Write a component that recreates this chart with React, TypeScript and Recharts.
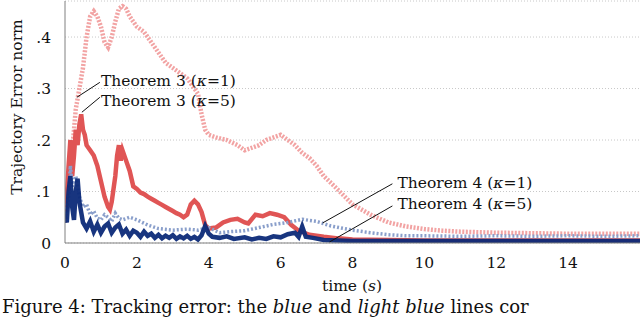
import {
  CartesianGrid,
  Line,
  LineChart,
  ReferenceDot,
  ReferenceLine,
  XAxis,
  YAxis,
} from "recharts";

// Theorem 3 (kappa=1) - light red, dotted
const t3k1Time = [0, 0.1, 0.2, 0.3, 0.4, 0.5, 0.6, 0.7, 0.8, 0.9, 1.0, 1.1, 1.2, 1.3, 1.4, 1.5, 1.6, 1.7, 1.8, 2.0, 2.2, 2.4, 2.6, 2.8, 3.0, 3.2, 3.4, 3.6, 3.7, 3.8, 3.9, 4.0, 4.2, 4.5, 4.8, 5.0, 5.2, 5.4, 5.6, 5.8, 6.0, 6.2, 6.4, 6.6, 6.8, 7.0, 7.2, 7.5, 8.0, 8.5, 9.0, 9.5, 10, 10.5, 11, 12, 13, 14, 15, 16];
const t3k1Err = [0.04, 0.1, 0.18, 0.26, 0.3, 0.34, 0.4, 0.44, 0.45, 0.44, 0.42, 0.39, 0.38, 0.4, 0.43, 0.455, 0.46, 0.455, 0.44, 0.42, 0.41, 0.39, 0.37, 0.35, 0.34, 0.33, 0.32, 0.3, 0.29, 0.25, 0.22, 0.21, 0.205, 0.2, 0.19, 0.18, 0.185, 0.19, 0.2, 0.205, 0.21, 0.2, 0.19, 0.175, 0.165, 0.15, 0.13, 0.11, 0.075, 0.055, 0.04, 0.032, 0.027, 0.024, 0.022, 0.02, 0.019, 0.018, 0.018, 0.018];

// Theorem 3 (kappa=5) - red, solid
const t3k5Time = [0, 0.05, 0.1, 0.15, 0.2, 0.25, 0.3, 0.35, 0.4, 0.45, 0.5, 0.55, 0.6, 0.7, 0.8, 0.9, 1.0, 1.1, 1.2, 1.25, 1.3, 1.4, 1.45, 1.5, 1.55, 1.6, 1.7, 1.8, 1.9, 2.0, 2.1, 2.2, 2.3, 2.4, 2.5, 2.6, 2.7, 2.8, 2.9, 3.0, 3.1, 3.2, 3.3, 3.4, 3.5, 3.6, 3.7, 3.8, 3.9, 4.0, 4.2, 4.4, 4.6, 4.8, 5.0, 5.1, 5.3, 5.5, 5.7, 5.9, 6.1, 6.3, 6.5, 6.8, 7.2, 7.6, 8.0, 9, 10, 12, 14, 16];
const t3k5Err = [0.06, 0.09, 0.15, 0.2, 0.13, 0.17, 0.22, 0.19, 0.23, 0.25, 0.22, 0.21, 0.19, 0.18, 0.17, 0.15, 0.12, 0.09, 0.07, 0.065, 0.08, 0.13, 0.17, 0.19, 0.16, 0.18, 0.16, 0.14, 0.11, 0.105, 0.098, 0.095, 0.09, 0.086, 0.082, 0.078, 0.074, 0.07, 0.066, 0.062, 0.058, 0.055, 0.05, 0.055, 0.075, 0.082, 0.075, 0.06, 0.035, 0.028, 0.03, 0.04, 0.045, 0.047, 0.04, 0.038, 0.055, 0.052, 0.058, 0.055, 0.05, 0.035, 0.024, 0.016, 0.012, 0.009, 0.007, 0.006, 0.005, 0.005, 0.005, 0.005];

// Theorem 4 (kappa=1) - light blue, dotted
const t4k1Time = [0, 0.1, 0.15, 0.2, 0.3, 0.4, 0.5, 0.6, 0.7, 0.8, 0.9, 1.0, 1.1, 1.2, 1.3, 1.4, 1.5, 1.6, 1.8, 2.0, 2.3, 2.6, 3.0, 3.4, 3.7, 4.0, 4.3, 4.6, 5.0, 5.4, 5.8, 6.2, 6.6, 7.0, 7.4, 8.0, 8.5, 9.0, 9.5, 10, 11, 12, 13, 14, 15, 16];
const t4k1Err = [0.05, 0.09, 0.15, 0.11, 0.13, 0.09, 0.07, 0.075, 0.055, 0.062, 0.048, 0.045, 0.055, 0.05, 0.042, 0.058, 0.048, 0.045, 0.05, 0.045, 0.035, 0.028, 0.025, 0.027, 0.025, 0.03, 0.02, 0.022, 0.024, 0.03, 0.036, 0.04, 0.046, 0.042, 0.033, 0.025, 0.02, 0.016, 0.014, 0.014, 0.013, 0.014, 0.013, 0.014, 0.013, 0.014];

// Theorem 4 (kappa=5) - dark blue, solid
const t4k5Time = [0, 0.05, 0.1, 0.15, 0.2, 0.25, 0.3, 0.35, 0.4, 0.45, 0.5, 0.6, 0.7, 0.8, 0.9, 1.0, 1.1, 1.2, 1.3, 1.4, 1.5, 1.6, 1.7, 1.8, 1.9, 2.0, 2.1, 2.2, 2.3, 2.4, 2.5, 2.6, 2.7, 2.8, 2.9, 3.0, 3.1, 3.2, 3.3, 3.4, 3.5, 3.6, 3.7, 3.8, 3.9, 4.0, 4.1, 4.3, 4.5, 4.7, 5.0, 5.2, 5.4, 5.6, 5.8, 6.0, 6.2, 6.4, 6.5, 6.6, 6.7, 6.9, 7.2, 7.6, 8, 9, 10, 12, 14, 16];
const t4k5Err = [0.05, 0.04, 0.1, 0.13, 0.07, 0.045, 0.1, 0.125, 0.08, 0.06, 0.04, 0.028, 0.042, 0.022, 0.036, 0.02, 0.032, 0.038, 0.02, 0.03, 0.036, 0.018, 0.026, 0.014, 0.024, 0.02, 0.012, 0.022, 0.014, 0.018, 0.01, 0.016, 0.009, 0.014, 0.01, 0.015, 0.008, 0.013, 0.009, 0.014, 0.008, 0.012, 0.007, 0.015, 0.033, 0.018, 0.012, 0.01, 0.013, 0.008, 0.011, 0.007, 0.01, 0.008, 0.013, 0.011, 0.017, 0.02, 0.012, 0.032, 0.012, 0.01, 0.006, 0.005, 0.004, 0.004, 0.004, 0.004, 0.004, 0.004];

const xTicks = [0, 2, 4, 6, 8, 10, 12, 14];
const yTicks = [0, 0.1, 0.2, 0.3, 0.4];

const SERIF = "'DejaVu Serif', serif";

function toPoints(time: number[], err: number[]) {
  return time.map((t, i) => ({ t, v: err[i] }));
}

function yFmt(v: number): string {
  // 0.3 -> ".3"
  return v === 0 ? "0" : String(v).replace(/^0/, "");
}

function annot(theorem: number, kappa: number) {
  return (props: any) => {
    const vb = props.viewBox || {};
    return (
      <text x={vb.x} y={vb.y} dy="0.35em" fontFamily={SERIF} fontSize={15.5} fill="#111">
        <tspan>{`Theorem ${theorem} (`}</tspan>
        <tspan fontStyle="italic">κ</tspan>
        <tspan>{`=${kappa})`}</tspan>
      </text>
    );
  };
}

export default function App() {
  return (
    <div style={{ position: "fixed", left: 0, top: 0, width: 640, height: 320, background: "#fff", overflow: "hidden" }}>
      <LineChart width={640} height={300} margin={{ top: 1, right: 0, bottom: 0, left: 0 }}>
        <CartesianGrid stroke="#c8c8c8" strokeDasharray="1 2" vertical={false} />
        <XAxis
          type="number"
          dataKey="t"
          domain={[0, 16]}
          ticks={xTicks}
          allowDataOverflow
          height={57}
          tick={{ fill: "#111", fontSize: 15.5, fontFamily: SERIF }}
          tickLine={false}
          axisLine={{ stroke: "#808080" }}
          tickMargin={8}
          label={() => (
            <text x={352} y={286} dy="0.35em" textAnchor="middle" fontFamily={SERIF} fontSize={15.5} fill="#111">
              time (<tspan fontStyle="italic">s</tspan>)
            </text>
          )}
        />
        <YAxis
          type="number"
          dataKey="v"
          domain={[0, 0.47]}
          ticks={yTicks}
          allowDataOverflow
          width={65}
          tickFormatter={yFmt}
          tick={{ fill: "#111", fontSize: 15.5, fontFamily: SERIF }}
          tickLine={false}
          axisLine={{ stroke: "#808080" }}
          tickMargin={8}
          label={() => (
            <text x={17} y={107} dy="0.35em" textAnchor="middle" transform="rotate(-90 17 107)" fontFamily={SERIF} fontSize={15.5} fill="#111">
              Trajectory Error norm
            </text>
          )}
        />
        <Line data={toPoints(t3k1Time, t3k1Err)} dataKey="v" stroke="#f2a3a3" strokeWidth={4.5} strokeDasharray="2 1.5" dot={false} isAnimationActive={false} />
        <Line data={toPoints(t3k5Time, t3k5Err)} dataKey="v" stroke="#e05555" strokeWidth={4.5} dot={false} isAnimationActive={false} />
        <Line data={toPoints(t4k1Time, t4k1Err)} dataKey="v" stroke="#8a9fcb" strokeWidth={3.5} strokeDasharray="2 2" dot={false} isAnimationActive={false} />
        <Line data={toPoints(t4k5Time, t4k5Err)} dataKey="v" stroke="#0c2a78" strokeWidth={4.5} strokeOpacity={0.95} dot={false} isAnimationActive={false} />

        <ReferenceLine segment={[{ x: 0.33, y: 0.283 }, { x: 0.97, y: 0.312 }]} stroke="#111" strokeWidth={1} ifOverflow="visible" />
        <ReferenceLine segment={[{ x: 0.47, y: 0.254 }, { x: 0.97, y: 0.283 }]} stroke="#111" strokeWidth={1} ifOverflow="visible" />
        <ReferenceLine segment={[{ x: 7.17, y: 0.039 }, { x: 9.11, y: 0.115 }]} stroke="#111" strokeWidth={1} ifOverflow="visible" />
        <ReferenceLine segment={[{ x: 7.36, y: 0.002 }, { x: 9.11, y: 0.072 }]} stroke="#111" strokeWidth={1} ifOverflow="visible" />

        <ReferenceDot x={1.0} y={0.316} r={0} fill="none" stroke="none" ifOverflow="visible" label={annot(3, 1)} />
        <ReferenceDot x={1.0} y={0.277} r={0} fill="none" stroke="none" ifOverflow="visible" label={annot(3, 5)} />
        <ReferenceDot x={9.25} y={0.117} r={0} fill="none" stroke="none" ifOverflow="visible" label={annot(4, 1)} />
        <ReferenceDot x={9.25} y={0.076} r={0} fill="none" stroke="none" ifOverflow="visible" label={annot(4, 5)} />
      </LineChart>
      <div style={{ position: "absolute", left: 2, top: 296, fontFamily: SERIF, fontSize: 18, lineHeight: "22px", whiteSpace: "nowrap", color: "#111" }}>
        Figure 4: Tracking error: the <i>blue</i> and <i>light blue</i> lines cor
      </div>
    </div>
  );
}
